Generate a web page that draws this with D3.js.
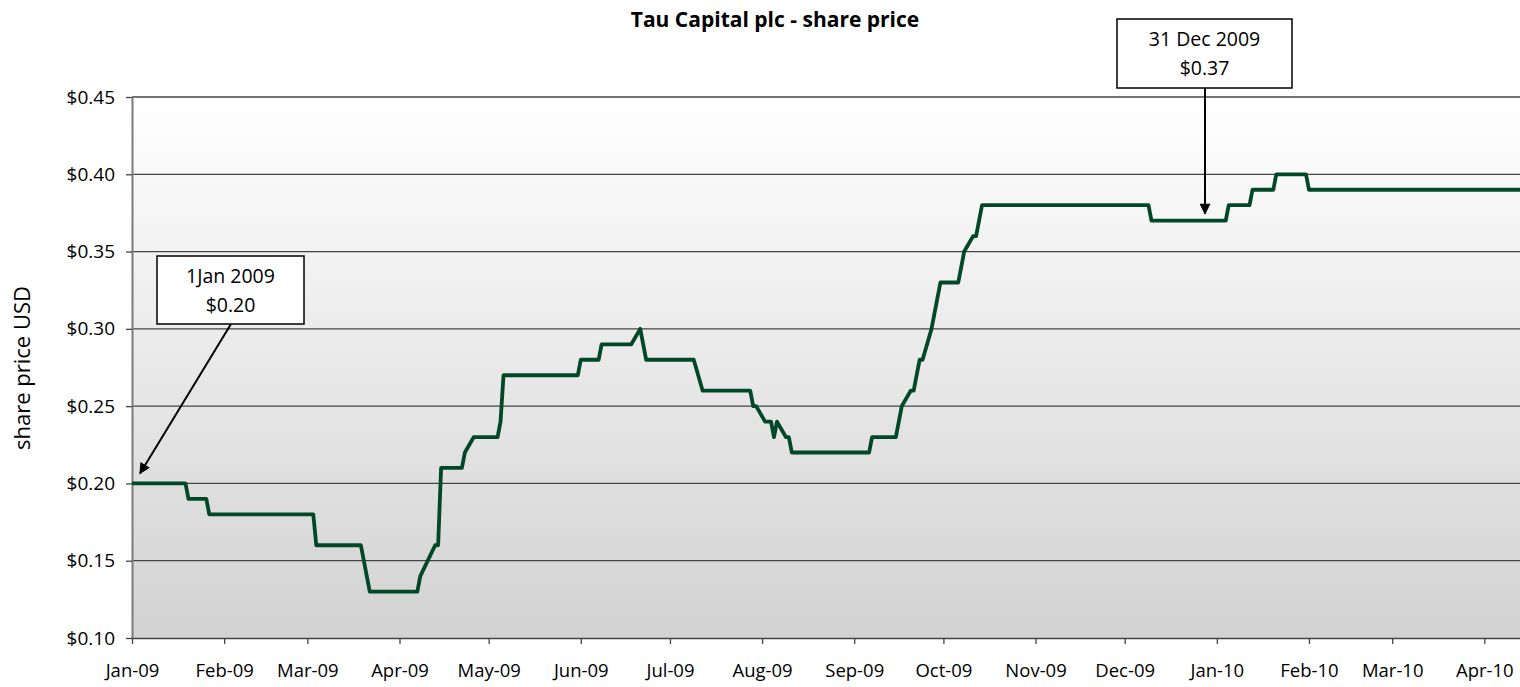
<!DOCTYPE html>
<html>
<head>
<meta charset="utf-8">
<script src="https://cdn.jsdelivr.net/npm/d3@7"></script>
<style>
  body { margin: 0; background: #fff; }
  text { font-family: "Open Sans", Lato, sans-serif; fill: #000; }
</style>
</head>
<body>
<script>
var w = 1520;
var h = 687;

// Dates where the price changes (last day at old level, first day at new level)
var dates = [
  "2009-01-01", "2009-01-19", "2009-01-20", "2009-01-26", "2009-01-27",
  "2009-03-03", "2009-03-04", "2009-03-19", "2009-03-22", "2009-04-07",
  "2009-04-08", "2009-04-13", "2009-04-14", "2009-04-15", "2009-04-22",
  "2009-04-23", "2009-04-26", "2009-05-04", "2009-05-05", "2009-05-06",
  "2009-05-31", "2009-06-01", "2009-06-07", "2009-06-08", "2009-06-18",
  "2009-06-21", "2009-06-22", "2009-06-23", "2009-07-09", "2009-07-12",
  "2009-07-28", "2009-07-29", "2009-07-30", "2009-08-02", "2009-08-04",
  "2009-08-05", "2009-08-06", "2009-08-09", "2009-08-10", "2009-08-11",
  "2009-09-06", "2009-09-07", "2009-09-15", "2009-09-16", "2009-09-17",
  "2009-09-20", "2009-09-21", "2009-09-22", "2009-09-23", "2009-09-24",
  "2009-09-27", "2009-09-28", "2009-09-29", "2009-09-30", "2009-10-06",
  "2009-10-07", "2009-10-08", "2009-10-11", "2009-10-12", "2009-10-14",
  "2009-12-09", "2009-12-10", "2010-01-04", "2010-01-05", "2010-01-12",
  "2010-01-13", "2010-01-20", "2010-01-21", "2010-01-31", "2010-02-01",
  "2010-04-13"
];
var prices = [
  0.20, 0.20, 0.19, 0.19, 0.18,
  0.18, 0.16, 0.16, 0.13, 0.13,
  0.14, 0.16, 0.16, 0.21, 0.21,
  0.22, 0.23, 0.23, 0.24, 0.27,
  0.27, 0.28, 0.28, 0.29, 0.29,
  0.30, 0.29, 0.28, 0.28, 0.26,
  0.26, 0.25, 0.25, 0.24, 0.24,
  0.23, 0.24, 0.23, 0.23, 0.22,
  0.22, 0.23, 0.23, 0.24, 0.25,
  0.26, 0.26, 0.27, 0.28, 0.28,
  0.30, 0.31, 0.32, 0.33, 0.33,
  0.34, 0.35, 0.36, 0.36, 0.38,
  0.38, 0.37, 0.37, 0.38, 0.38,
  0.39, 0.39, 0.40, 0.40, 0.39,
  0.39
];

var yTicks = [0.10, 0.15, 0.20, 0.25, 0.30, 0.35, 0.40, 0.45];
var xTicks = ["2009-01-01", "2009-02-01", "2009-03-01", "2009-04-01", "2009-05-01",
  "2009-06-01", "2009-07-01", "2009-08-01", "2009-09-01", "2009-10-01",
  "2009-11-01", "2009-12-01", "2010-01-01", "2010-02-01", "2010-03-01", "2010-04-01"];

// Callouts
var notes = [
  { date: "2009-01-01", price: 0.20, lines: ["1Jan 2009", "$0.20"] },
  { date: "2009-12-31", price: 0.37, lines: ["31 Dec 2009", "$0.37"] }
];

var parse = d3.timeParse("%Y-%m-%d");
var data = dates.map(function(d, i) {
  return { date: parse(d), price: prices[i] };
});

var plotLeft = 132, plotRight = 1520, plotTop = 97, plotBottom = 638;

var x = d3.scaleTime()
  .domain([parse("2009-01-01"), parse("2010-04-13")])
  .range([plotLeft, plotRight]);

var y = d3.scaleLinear()
  .domain([0.10, 0.45])
  .range([plotBottom, plotTop]);

var svg = d3.select("body")
  .append("svg")
  .attr("width", w)
  .attr("height", h);

// Background gradient
var defs = svg.append("defs");
var grad = defs.append("linearGradient")
  .attr("id", "bg")
  .attr("x1", 0).attr("y1", 0)
  .attr("x2", 0).attr("y2", 1);
grad.append("stop").attr("offset", "0%").attr("stop-color", "#ffffff");
grad.append("stop").attr("offset", "100%").attr("stop-color", "#d2d2d2");

defs.append("marker")
  .attr("id", "arrow")
  .attr("viewBox", "0 0 10 10")
  .attr("refX", 9).attr("refY", 5)
  .attr("markerWidth", 6).attr("markerHeight", 5.5)
  .attr("markerUnits", "strokeWidth")
  .attr("orient", "auto")
  .append("path")
  .attr("d", "M0,0 L10,5 L0,10 z")
  .attr("fill", "#000");

svg.append("rect")
  .attr("x", plotLeft)
  .attr("y", plotTop)
  .attr("width", plotRight - plotLeft)
  .attr("height", plotBottom - plotTop)
  .attr("fill", "url(#bg)");

// Grid lines
svg.selectAll("line.grid")
  .data(yTicks.slice(1))
  .enter().append("line")
  .attr("class", "grid")
  .attr("x1", plotLeft)
  .attr("x2", plotRight)
  .attr("y1", function(d) { return y(d); })
  .attr("y2", function(d) { return y(d); })
  .attr("stroke", "#444")
  .attr("stroke-width", 1.3);

// Y axis
var yAxis = d3.axisLeft(y)
  .tickValues(yTicks)
  .tickSize(6)
  .tickSizeOuter(0)
  .tickPadding(11)
  .tickFormat(function(d) { return "$" + d.toFixed(2); });

var gy = svg.append("g")
  .attr("transform", "translate(" + plotLeft + ",0)")
  .call(yAxis);
gy.select(".domain").attr("stroke", "#7a7a7a").attr("stroke-width", 2);
gy.selectAll(".tick line").attr("stroke", "#444").attr("stroke-width", 1.3);
gy.selectAll("text")
  .style("font-size", "19px")
  .style("font-family", "'Open Sans', sans-serif");

// X axis
var xAxis = d3.axisBottom(x)
  .tickValues(xTicks.map(parse))
  .tickSize(6)
  .tickSizeOuter(0)
  .tickPadding(20)
  .tickFormat(d3.timeFormat("%b-%y"));

var gx = svg.append("g")
  .attr("transform", "translate(0," + plotBottom + ")")
  .call(xAxis);
gx.select(".domain").attr("stroke", "#444").attr("stroke-width", 1.5);
gx.selectAll(".tick line").attr("stroke", "#444").attr("stroke-width", 1.3);
gx.selectAll("text")
  .style("font-size", "18.5px")
  .style("font-family", "'Open Sans', sans-serif");

// Price line
var line = d3.line()
  .x(function(d) { return x(d.date); })
  .y(function(d) { return y(d.price); });

svg.append("path")
  .datum(data)
  .attr("d", line)
  .attr("fill", "none")
  .attr("stroke", "#004827")
  .attr("stroke-width", 3.8)
  .attr("stroke-linejoin", "round");

// Title
svg.append("text")
  .attr("x", 775)
  .attr("y", 27)
  .attr("text-anchor", "middle")
  .style("font-size", "21px")
  .style("font-weight", "bold")
  .text("Tau Capital plc - share price");

// Y axis title
svg.append("text")
  .attr("transform", "translate(30,368) rotate(-90)")
  .attr("text-anchor", "middle")
  .style("font-size", "22px")
  .text("share price USD");

// Callout boxes (placed relative to the point they describe)
var boxes = [
  { bx: 157, by: 256, bw: 147, bh: 68, ax: 231, tipDx: 8, tipDy: -10 },
  { bx: 1117, by: 19, bw: 175, bh: 69, ax: 1205, tipDx: 0, tipDy: -7 }
];

notes.forEach(function(n, i) {
  var b = boxes[i];
  var g = svg.append("g");
  g.append("rect")
    .attr("x", b.bx).attr("y", b.by)
    .attr("width", b.bw).attr("height", b.bh)
    .attr("fill", "#fff")
    .attr("stroke", "#000")
    .attr("stroke-width", 1.5);
  n.lines.forEach(function(t, j) {
    g.append("text")
      .attr("x", b.bx + b.bw / 2)
      .attr("y", b.by + 26.5 + j * 29.5)
      .attr("text-anchor", "middle")
      .style("font-size", "19.5px")
      .text(t);
  });
  var tx = i === 0 ? x(parse(n.date)) + b.tipDx : b.ax;
  g.append("line")
    .attr("x1", b.ax).attr("y1", b.by + b.bh)
    .attr("x2", tx)
    .attr("y2", y(n.price) + b.tipDy)
    .attr("stroke", "#000")
    .attr("stroke-width", 2)
    .attr("marker-end", "url(#arrow)");
});
</script>
</body>
</html>
